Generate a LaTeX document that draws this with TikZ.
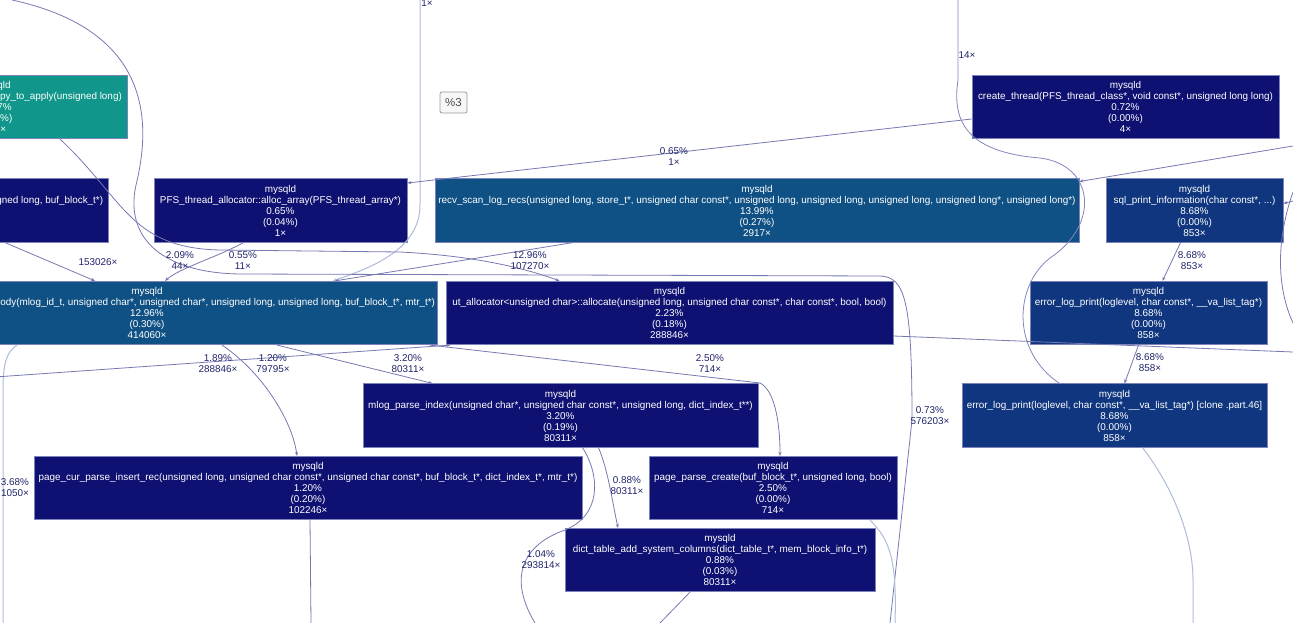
\documentclass[tikz,border=0pt]{standalone}
\usepackage{fontspec}
\setmainfont{Liberation Sans}
\usetikzlibrary{arrows.meta,positioning}
\definecolor{navyfill}{HTML}{0E1072}
\definecolor{steelfill}{HTML}{0F5184}
\definecolor{midfill}{HTML}{0F367E}
\definecolor{tealfill}{HTML}{10968A}
\definecolor{boxline}{HTML}{7C82BA}
\definecolor{edgeline}{HTML}{7779B3}
\definecolor{edgelight}{HTML}{AEBCDA}
\definecolor{lbltext}{HTML}{20256A}

\begin{document}
\begin{tikzpicture}[x=1pt,y=-1pt,
  fn/.style={rectangle,draw=boxline,line width=.7pt,fill=navyfill,text=white,
    font=\fontsize{9.9}{11}\selectfont,align=center,inner sep=0pt,minimum height=63.5pt},
  steelbox/.style={fn,fill=steelfill},
  midbox/.style={fn,fill=midfill},
  tealbox/.style={fn,fill=tealfill},
  tagbox/.style={rectangle,rounded corners=2pt,draw=gray!80,line width=.8pt,fill=gray!6,text=gray!60!black,
    font=\fontsize{11.5}{12}\selectfont,minimum width=27pt,minimum height=21pt,inner sep=0pt},
  call/.style={-{Stealth[length=4pt,width=3.2pt]},draw=edgeline,line width=.8pt},
  tail/.style={draw=edgeline,line width=.8pt},
  faint/.style={draw=edgelight,line width=1pt},
  lbl/.style={text=lbltext,font=\fontsize{9.9}{11}\selectfont,align=center,inner sep=0pt}
]
\useasboundingbox (0,0) rectangle (1293,623);
\clip (0,0) rectangle (1293,623);
\fill[white] (0,0) rectangle (1293,623);

% boxes
\node[tealbox,minimum width=264pt] (apply) at (-5,107) {mysqld\\recv\_sys\_t::test\_log\_block\_copy\_to\_apply(unsigned long)\\10.27\%\\(0.21\%)\\207×};
\node[fn,minimum width=314pt] (recover) at (-49,210.5) {mysqld\\recv\_recover\_page\_func(unsigned long, unsigned long, buf\_block\_t*)\\9.15\%\\(0.02\%)\\3702×};
\node[fn,minimum width=253pt] (pfsalloc) at (280.5,210.5) {mysqld\\PFS\_thread\_allocator::alloc\_array(PFS\_thread\_array*)\\0.65\%\\(0.04\%)\\1×};
\node[steelbox,minimum width=644pt] (scan) at (757,210.5) {mysqld\\recv\_scan\_log\_recs(unsigned long, store\_t*, unsigned char const*, unsigned long, unsigned long, unsigned long, unsigned long*, unsigned long*)\\13.99\%\\(0.27\%)\\2917×};
\node[fn,minimum width=307pt] (thread) at (1125.5,107) {mysqld\\create\_thread(PFS\_thread\_class*, void const*, unsigned long long)\\0.72\%\\(0.00\%)\\4×};
\node[midbox,minimum width=177pt] (sqlinfo) at (1194.5,210.5) {mysqld\\sql\_print\_information(char const*, ...)\\8.68\%\\(0.00\%)\\853×};
\node[steelbox,minimum width=580pt] (parse) at (147,313) {mysqld\\recv\_parse\_or\_apply\_log\_rec\_body(mlog\_id\_t, unsigned char*, unsigned char*, unsigned long, unsigned long, buf\_block\_t*, mtr\_t*)\\12.96\%\\(0.30\%)\\414060×};
\node[fn,minimum width=447pt] (utalloc) at (669.5,313) {mysqld\\ut\_allocator<unsigned char>::allocate(unsigned long, unsigned char const*, char const*, bool, bool)\\2.23\%\\(0.18\%)\\288846×};
\node[midbox,minimum width=237pt] (errlog) at (1148.5,313) {mysqld\\error\_log\_print(loglevel, char const*, \_\_va\_list\_tag*)\\8.68\%\\(0.00\%)\\858×};
\node[fn,minimum width=395pt] (mlogidx) at (560.5,415.5) {mysqld\\mlog\_parse\_index(unsigned char*, unsigned char const*, unsigned long, dict\_index\_t**)\\3.20\%\\(0.19\%)\\80311×};
\node[midbox,minimum width=305pt] (errclone) at (1114.5,415.5) {mysqld\\error\_log\_print(loglevel, char const*, \_\_va\_list\_tag*) [clone .part.46]\\8.68\%\\(0.00\%)\\858×};
\node[fn,minimum width=548pt] (insrec) at (308,488) {mysqld\\page\_cur\_parse\_insert\_rec(unsigned long, unsigned char const*, unsigned char const*, buf\_block\_t*, dict\_index\_t*, mtr\_t*)\\1.20\%\\(0.20\%)\\102246×};
\node[fn,minimum width=248pt] (pgcreate) at (773,488) {mysqld\\page\_parse\_create(buf\_block\_t*, unsigned long, bool)\\2.50\%\\(0.00\%)\\714×};
\node[fn,minimum width=310pt] (syscols) at (720,560) {mysqld\\dict\_table\_add\_system\_columns(dict\_table\_t*, mem\_block\_info\_t*)\\0.88\%\\(0.03\%)\\80311×};
\node[tagbox] (graphtag) at (453.5,102.5) {\%3};

% free ends
\coordinate (topa) at (420,0);
\coordinate (topb) at (958,0);
\coordinate (topc) at (12,0);
\coordinate (rin1) at (1293,146);
\coordinate (rin2) at (1293,201);
\coordinate (rarc1) at (1293,192);
\coordinate (rarc2) at (1295,327);
\coordinate (rout) at (1293,352);
\coordinate (lin) at (-5,377);
\coordinate (bot1) at (311,623);
\coordinate (bot2) at (535,623);
\coordinate (bot3) at (660,623);
\coordinate (bot4) at (890,623);
\coordinate (bot5) at (895,623);
\coordinate (bot6) at (1193,623);
\coordinate (bot7) at (3,623);

% edges
\draw[call] ([xshift=54pt]recover.south) -- ([xshift=-52pt]parse.north);
\draw[call,draw=edgelight,line width=1pt] (topa) -- (420,205) .. controls (420,250) and (370,268) .. ([xshift=186pt]parse.north);
\draw[call] ([xshift=-184pt]scan.south) -- ([xshift=188pt]parse.north);
\draw[call] ([xshift=-37pt]pfsalloc.south) .. controls (215,258) and (180,268) .. ([xshift=18pt]parse.north);
\draw[call] ([xshift=65pt]apply.south) .. controls (125,200) and (130,248) .. (220,250) -- (400,252) .. controls (480,256) and (530,270) .. ([xshift=-110pt]utalloc.north);
\draw[tail] (topc) .. controls (150,30) and (152,120) .. (136,185) .. controls (124,240) and (165,273) .. (240,274) -- (880,276) .. controls (905,277) and (912,300) .. (912,420) -- (bot4);
\draw[call] ([yshift=-12pt]thread.west) -- ([yshift=27.5pt]pfsalloc.east);
\draw[call] (rin1) -- ([yshift=29pt]scan.east);
\draw[call] (rin2) -- ([yshift=7pt]sqlinfo.east);
\draw[tail] (rarc1) .. controls (1276,240) and (1276,290) .. (rarc2);
\draw[call] ([xshift=-14pt]sqlinfo.south) -- ([xshift=14pt]errlog.north);
\draw[call] ([xshift=-10pt]errlog.south) -- ([xshift=10pt]errclone.north);
\draw[tail,draw=edgeline!80!edgelight] (topb) -- (958,80) .. controls (952,120) and (965,152) .. (1040,158) .. controls (1095,165) and (1100,225) .. (1050,258) .. controls (1015,285) and (1010,350) .. ([xshift=-55pt]errclone.north);
\draw[faint] ([xshift=28pt]errclone.south) .. controls (1175,490) and (1193,540) .. (1193,580) -- (bot6);
\draw[tail] ([yshift=-23pt]utalloc.east) -- (rout);
\draw[faint] ([xshift=-130pt]parse.south) .. controls (6,352) and (3,365) .. (3,390) -- (bot7);
\draw[call] (lin) -- ([xshift=-219pt]utalloc.south);
\draw[call] ([xshift=75pt]parse.south) .. controls (262,372) and (292,420) .. ([xshift=-11pt]insrec.north);
\draw[call] ([xshift=130pt]parse.south) -- ([xshift=-128pt]mlogidx.north);
\draw[call] ([xshift=283pt]parse.south) -- (760,383) .. controls (774,390) and (780,420) .. ([xshift=7pt]pgcreate.north);
\draw[tail] ([xshift=2pt]insrec.south) -- (bot1);
\draw[call] ([xshift=38pt]mlogidx.south) .. controls (608,470) and (612,500) .. ([xshift=-102pt]syscols.north);
\draw[tail] ([xshift=22pt]mlogidx.south) .. controls (600,475) and (602,515) .. (565,530) .. controls (522,545) and (508,578) .. (bot2);
\draw[faint] ([xshift=97pt]pgcreate.south) .. controls (890,540) and (897,560) .. (bot5);
\draw[tail] ([xshift=-30pt]syscols.south) -- (bot3);

% edge labels
\node[lbl] (l-top) at (427,3) {1×};
\node[lbl] (l-14) at (967,55) {14×};
\node[lbl] (l-thread) at (674,157) {0.65\%\\1×};
\node[lbl] (l-rec) at (98,262) {153026×};
\node[lbl] (l-apply) at (180,261) {2.09\%\\44×};
\node[lbl] (l-pfs) at (243,261) {0.55\%\\11×};
\node[lbl] (l-scan) at (530,261) {12.96\%\\107270×};
\node[lbl] (l-sql) at (1192,261) {8.68\%\\853×};
\node[lbl] (l-err) at (1150,363) {8.68\%\\858×};
\node[lbl] (l-ut) at (218,364) {1.89\%\\288846×};
\node[lbl] (l-ins) at (273,364) {1.20\%\\79795×};
\node[lbl] (l-idx) at (408,364) {3.20\%\\80311×};
\node[lbl] (l-pg) at (710,364) {2.50\%\\714×};
\node[lbl] (l-long) at (930,416) {0.73\%\\576203×};
\node[lbl] (l-left) at (15,488) {3.68\%\\1050×};
\node[lbl] (l-sys) at (627,486) {0.88\%\\80311×};
\node[lbl] (l-off) at (541,560) {1.04\%\\293814×};
\end{tikzpicture}
\end{document}
